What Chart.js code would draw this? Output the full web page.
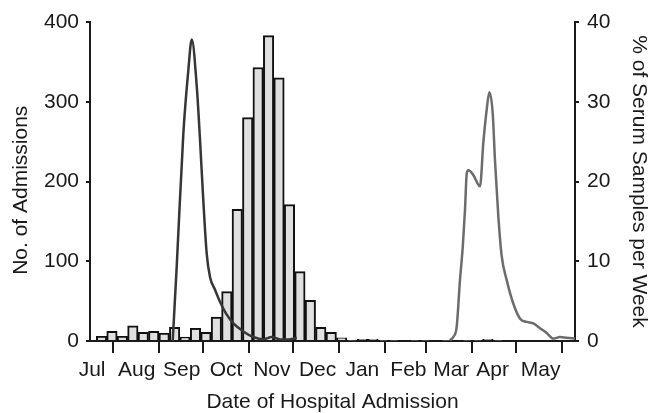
<!DOCTYPE html>
<html><head><meta charset="utf-8">
<script src="https://cdn.jsdelivr.net/npm/chart.js@4.4.0/dist/chart.umd.min.js"></script>
<style>html,body{margin:0;padding:0;background:#fff;overflow:hidden}#wrap{width:649px;height:413px}</style>
</head><body><div id="wrap"><canvas id="c" width="649" height="413"></canvas></div>
<script>
// Month labels (placed mid-month) and month boundaries, in days from Jul 1
const monthLabels = ['Jul','Aug','Sep','Oct','Nov','Dec','Jan','Feb','Mar','Apr','May'];
const monthLabelDays = [16.8, 47, 77.5, 107.5, 138.5, 169.5, 199.8, 231, 260, 288, 320.5];
const monthStartDays = [31, 62, 92, 123, 153, 184, 215, 243, 274, 304, 335];

// Weekly hospital admissions (histogram)
const weeks = [1,2,3,4,5,6,7,8,9,10,11,12,13,14,15,16,17,18,19,20,21,22,23,24,25,26,27,28,29,30,31,32,33,34,35,36,37,38,39];
const admissions = [6,12,6,19,11,12,10,17,5,16,11,30,62,165,280,343,383,330,171,87,51,17,11,4,1,2,2,1,1,0,1,1,0,1,0,1,1,2,1];
const firstWeekDay = 23.2;
const weekLength = 7.07;

// % of serum samples per week, first virus (dark line)
const serumDays1 = [71.4,74.1,78.6,82,84.3,87.7,89.9,92.1,94.4,96.7,100.1,103.5,108,112.5,119.2,126,132.8,138.5,144.1,149.7,155.4];
const serumPct1  = [0,9.3,26,34,37.8,31.9,25.2,17.7,11,8,6.4,4.9,3.3,2.2,1.2,0.5,0.2,0.5,0.2,0.2,0.4];

// % of serum samples per week, second virus (grey line)
const serumDays2 = [259.2,261.4,263.7,265.9,267.8,269.3,270.5,271.6,275,279.5,281.7,284,285.8,288.1,289.6,291.9,294.2,297.6,302,306.6,311.1,315.6,320.1,324.6,329.1,333.6,338.2,343.8];
const serumPct2  = [0.1,0.5,1.8,7.6,11.8,16.4,21,21.4,20.8,19.4,24.8,29,31.2,28.5,22.7,15.6,10.6,7.6,4.7,2.8,2.4,2.2,1.6,1,0.3,0.5,0.4,0.3];

const FONT = 'Liberation Sans, Arial, Helvetica, sans-serif';
const INK = '#1a1a1a';

const barData = weeks.map((w, i) => ({x: firstWeekDay + (w - 1) * weekLength, y: admissions[i]}));
const line1 = serumDays1.map((d, i) => ({x: d, y: serumPct1[i]}));
const line2 = serumDays2.map((d, i) => ({x: d, y: serumPct2[i]}));

new Chart(document.getElementById('c'), {
  type: 'bar',
  data: {
    datasets: [
      {type: 'line', data: line1, yAxisID: 'y2', borderColor: '#363636', borderWidth: 2.5, pointRadius: 0, cubicInterpolationMode: 'monotone', order: 0},
      {type: 'line', data: line2, yAxisID: 'y2', borderColor: '#6c6c6c', borderWidth: 2.5, pointRadius: 0, cubicInterpolationMode: 'monotone', order: 1},
      {type: 'bar', data: barData, yAxisID: 'y', backgroundColor: '#e0e0e0', borderColor: '#111', borderWidth: 2, barPercentage: 1, categoryPercentage: 1, order: 2}
    ]
  },
  options: {
    responsive: false,
    animation: false,
    layout: {padding: {top: 22, left: 0, right: 0, bottom: 0}},
    plugins: {legend: {display: false}, tooltip: {enabled: false}},
    scales: {
      x: {
        type: 'linear', min: 15.4, max: 343.8, offset: false,
        afterBuildTicks: s => { s.ticks = [...monthStartDays, ...monthLabelDays].sort((a, b) => a - b).map(v => ({value: v})); },
        afterFit: s => { s.height = 72; },
        grid: {offset: false, drawOnChartArea: false, drawTicks: true, tickLength: 12, lineWidth: 2,
               color: c => (c.tick && monthStartDays.includes(c.tick.value)) ? INK : 'rgba(0,0,0,0)'},
        border: {display: true, color: INK, width: 2},
        ticks: {autoSkip: false, maxRotation: 0, minRotation: 0, padding: 5, color: INK, font: {family: FONT, size: 21},
                callback: v => { const i = monthLabelDays.indexOf(v); return i >= 0 ? monthLabels[i] : ''; }},
        title: {display: true, text: 'Date of Hospital Admission', color: INK, font: {family: FONT, size: 21, lineHeight: 1}, padding: {top: 0, bottom: 0}}
      },
      y: {
        position: 'left', min: 0, max: 400,
        afterFit: s => { s.width = 90; },
        grid: {drawOnChartArea: false, tickLength: 4, lineWidth: 2, color: INK},
        border: {display: true, color: INK, width: 2},
        ticks: {stepSize: 100, padding: 7, color: INK, font: {family: FONT, size: 21}},
        title: {display: true, text: 'No. of Admissions   ', color: INK, font: {family: FONT, size: 21, lineHeight: 1}, padding: {top: 11, bottom: 0}}
      },
      y2: {
        position: 'right', min: 0, max: 40,
        afterFit: s => { s.width = 74; },
        grid: {drawOnChartArea: false, tickLength: 4, lineWidth: 2, color: INK},
        border: {display: true, color: INK, width: 2},
        ticks: {stepSize: 10, padding: 8, color: INK, font: {family: FONT, size: 21}},
        title: {display: true, text: '% of Serum Samples per Week', color: INK, font: {family: FONT, size: 21, lineHeight: 1}, padding: {top: 0, bottom: 0}}
      }
    }
  }
});
</script>
</body></html>
